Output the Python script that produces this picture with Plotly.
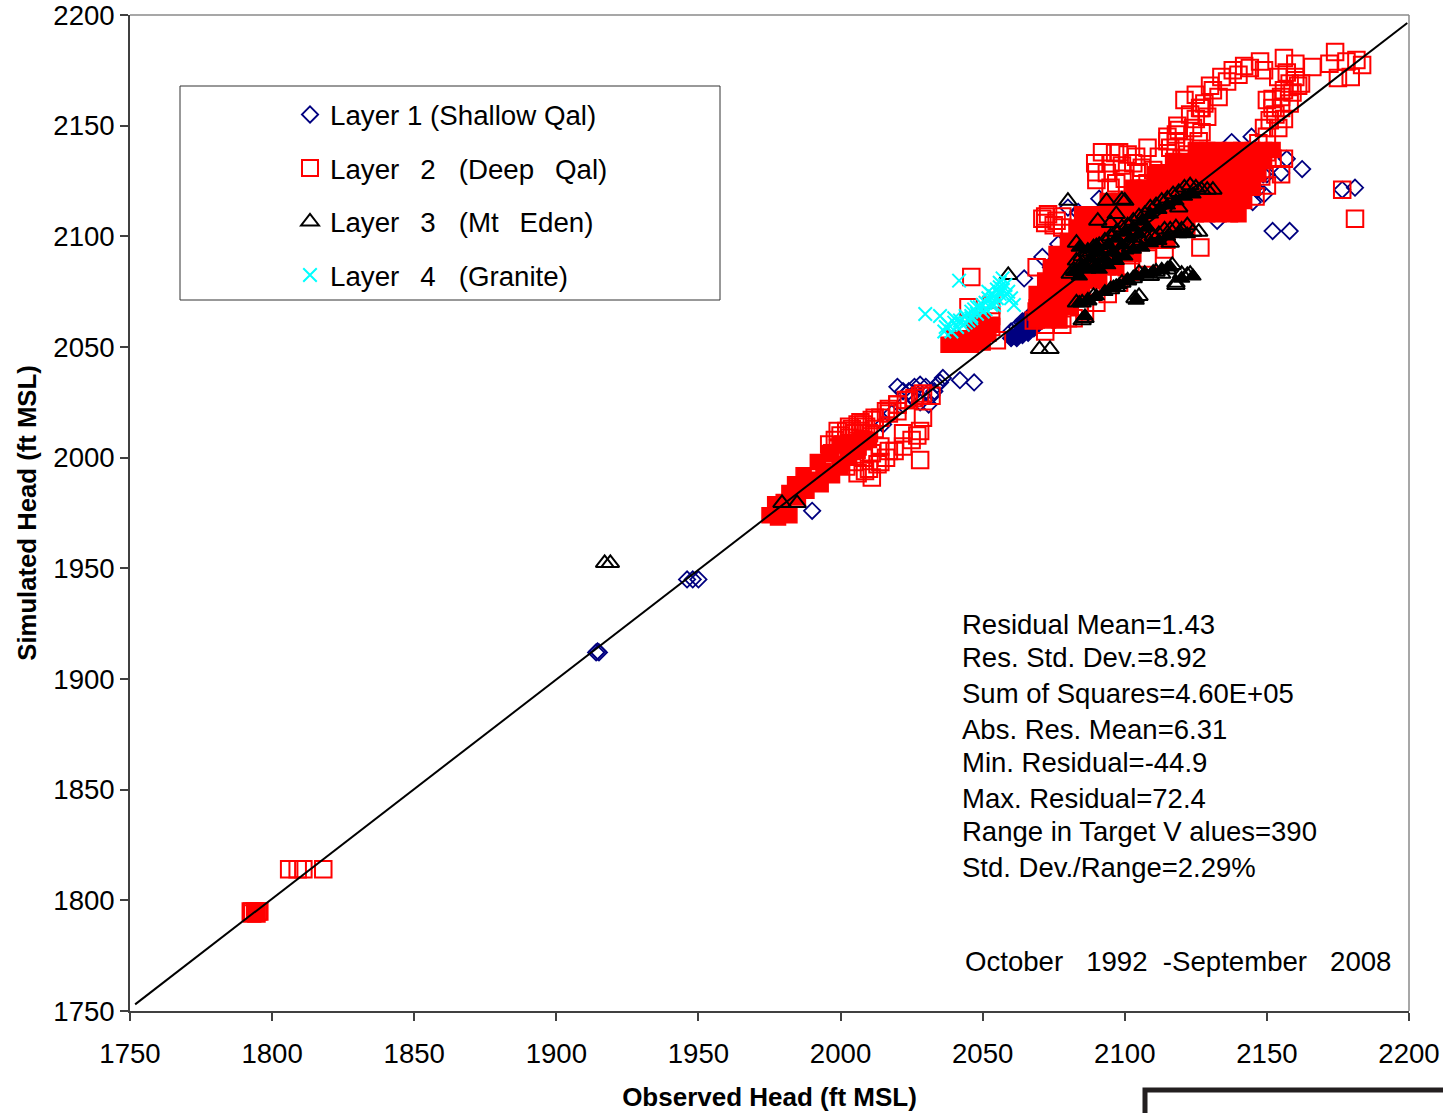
import plotly.graph_objects as go

FONT = "Liberation Sans, Arial, sans-serif"
W, H = 1443, 1113
L, R, T, B = 130, 34, 15, 102

# Layer 1 (Shallow Qal)
layer1_obs = [1914, 1915, 1914.5, 1946, 1948, 1950, 1990,
              2020, 2022, 2024, 2026, 2028, 2030, 2032, 2034, 2036, 2042, 2047, 2033, 2035, 2025, 2022, 2028, 2018, 2015, 2031,
              2060, 2061, 2062, 2063, 2064, 2065, 2066, 2060, 2062, 2064, 2066, 2067,
              2162.4, 2181, 2176.5, 2158, 2152, 2157, 2148.7, 2132.5, 2137, 2146.6, 2145, 2071, 2076.6, 2064.6, 2074, 2083.6, 2080, 2103, 2091, 2137.6, 2144.6, 2149, 2155, 2150]
layer1_sim = [1912, 1912, 1912.5, 1945, 1945, 1945, 1976,
              2032, 2030, 2030, 2032, 2033, 2032, 2028, 2033, 2036, 2035, 2034, 2030, 2034, 2028, 2024, 2025, 2020, 2015, 2024,
              2054, 2056, 2054, 2058, 2056, 2060, 2058, 2057, 2059, 2061, 2062, 2060,
              2130.4, 2122, 2121, 2102.4, 2102.4, 2135, 2128, 2107, 2111, 2121, 2115.5, 2090.7, 2096.5, 2081, 2086, 2111, 2113, 2119.6, 2117, 2142.6, 2145, 2119, 2128.6, 2128]

# Layer 1, the part of the cloud that overlaps to a solid mass
layer1_core_obs = [2060, 2062, 2064, 2066, 2062, 2064, 2066, 2068, 2065, 2067, 2064, 2067]
layer1_core_sim = [2054, 2056, 2057, 2058, 2054, 2055, 2056, 2058, 2060, 2062, 2062, 2065]

# Layer 2 (Deep Qal)
layer2_obs = [1792.5, 1793, 1794, 1795, 1795.5, 1793, 1794.5, 1806, 1809, 1811, 1818,
              1996, 1998, 2000, 2002, 2004, 2006, 1997, 1999, 2001, 2003, 2005, 2007, 2009, 2000, 2002, 2004, 2006, 2008, 2010, 2012,
              2002, 2005, 2008, 2011, 2014, 2008, 2011, 2014, 2017, 2020, 2010, 2013, 2016, 2019, 2022, 2025, 2028, 2017, 2020, 2023, 2026, 2029,
              2008.6, 2011, 2006, 2014, 2017, 2022, 2027, 2029, 2028,
              1999, 2003, 2007, 2012, 2016, 2020, 2024, 2028, 2032,
              2046, 2045, 2053, 2053, 2053, 2055,
              2121, 2126.5, 2131, 2134, 2138, 2142, 2147.6, 2149, 2123, 2125, 2128, 2130, 2133, 2136, 2140, 2144, 2118, 2118.5, 2124, 2125, 2127, 2129, 2127, 2126, 2121, 2115, 2122, 2119,
              2156, 2160, 2166, 2162, 2158, 2150, 2156, 2155, 2151, 2149, 2152, 2154, 2157, 2159, 2160, 2153, 2155, 2158, 2161, 2150, 2152, 2147, 2154, 2156, 2150, 2152,
              2174, 2175, 2172, 2179.5, 2178, 2181.5, 2183.5, 2176.5, 2181,
              2089.6, 2090, 2096.6, 2093.7, 2097, 2099, 2104, 2108, 2115, 2092, 2095, 2090, 2098, 2100, 2095, 2105, 2103, 2108, 2112, 2110, 2116, 2112, 2118, 2120, 2106, 2101,
              2072, 2078, 2075, 2069, 2071, 2073, 2076, 2078, 2072,
              2126.6, 2100.7, 2072, 2068, 2070, 2075, 2080, 2069, 2072, 2155, 2156, 2150, 2148, 2146,
              2078, 2082, 2086, 2090, 2094, 2098, 2102, 2108, 2114, 2084]
layer2_sim = [1795, 1795, 1795, 1795, 1795, 1794, 1794, 1814, 1814, 1814, 1814,
              2006, 2008, 2010, 2012, 2013, 2015, 2002, 2004, 2006, 2009, 2011, 2012, 2014, 1999, 2001, 2003, 2005, 2008, 2011, 2013,
              1996, 1998, 2000, 2002, 2005, 2015, 2017, 2018, 2020, 2021, 1995, 1997, 2000, 2003, 2005, 2008, 2012, 2022, 2024, 2026, 2027, 2029,
              1994, 1991, 1993, 1998, 2003, 2011, 2010, 2018, 1999,
              2012, 2014, 2016, 2018, 2021, 2024, 2026, 2028, 2028,
              2081.6, 2068, 2059, 2064, 2069, 2053,
              2161.6, 2158, 2166, 2172, 2175, 2177, 2179, 2175, 2155, 2164, 2160, 2168, 2163, 2170, 2173, 2176, 2146, 2150, 2149, 2153, 2147, 2154, 2158, 2143, 2140, 2143, 2137, 2148,
              2180.6, 2178, 2176.5, 2169, 2169, 2161.6, 2166, 2158, 2152.5, 2149, 2162, 2172, 2174, 2165, 2172, 2155, 2163, 2160, 2168, 2145, 2158, 2142, 2149, 2153, 2138, 2135,
              2183.3, 2171.5, 2178, 2172, 2179, 2179.7, 2177.4, 2121, 2108,
              2133, 2125.5, 2137.6, 2128.6, 2124, 2132, 2136, 2140, 2145, 2138, 2133, 2129, 2138, 2126, 2122, 2129, 2133, 2124, 2136, 2130, 2140, 2126, 2143, 2135, 2131, 2137,
              2109, 2109, 2105, 2086, 2108, 2110, 2107, 2104, 2106,
              2095, 2086, 2060, 2062, 2072, 2065, 2063, 2066, 2057, 2128, 2135, 2123, 2127, 2118,
              2060, 2063, 2066, 2070, 2074, 2079, 2084, 2090, 2094, 2068]

# Layer 2, the part of the cloud that overlaps to a solid mass
layer2_core_obs = [1794,
                   1975, 1978, 1982, 1980, 1985, 1977, 1984, 1988, 1982, 1990, 1993, 1987, 1994, 1997, 1992, 2000, 2003, 1996, 2006, 2000,
                   2003, 2007, 2010,
                   2038, 2042, 2046, 2050, 2040, 2044, 2048, 2052, 2053, 2050, 2047,
                   2069, 2073, 2077, 2069, 2073, 2077, 2081, 2069, 2073, 2077, 2081, 2085,
                   2072, 2076, 2080, 2084, 2088, 2091, 2074, 2078, 2082, 2086, 2090, 2094, 2097,
                   2076, 2080, 2084, 2088, 2092, 2096, 2100, 2103,
                   2080, 2084, 2088, 2092, 2096, 2100, 2104, 2108, 2112, 2115,
                   2083, 2087, 2091, 2095, 2099, 2103, 2107, 2111, 2115, 2119, 2122,
                   2085, 2089, 2093, 2097, 2101, 2105, 2109, 2113, 2117, 2121, 2125, 2129, 2133, 2137, 2140,
                   2094, 2098, 2102, 2106, 2110, 2114, 2118, 2122, 2126, 2130, 2134, 2138, 2142,
                   2103, 2107, 2111, 2115, 2119, 2123, 2127, 2131, 2135, 2139, 2143, 2145,
                   2111, 2115, 2119, 2123, 2127, 2131, 2135, 2139, 2143, 2147,
                   2117, 2121, 2125, 2129, 2133, 2137, 2141, 2145, 2149,
                   2125, 2129, 2133, 2137, 2141, 2145, 2149, 2152]
layer2_core_sim = [1795,
                   1974, 1973, 1974, 1980, 1982, 1979, 1988, 1985, 1984, 1990, 1988, 1992, 1994, 1992, 1998, 1996, 2000, 2002, 2003, 2006,
                   2006, 2008, 2008,
                   2051, 2051, 2051, 2052, 2054, 2054, 2055, 2056, 2060, 2062, 2060,
                   2062, 2062, 2062, 2068, 2068, 2068, 2068, 2074, 2074, 2074, 2074, 2074,
                   2080, 2080, 2080, 2080, 2080, 2080, 2086, 2086, 2086, 2086, 2086, 2086, 2086,
                   2092, 2092, 2092, 2092, 2092, 2092, 2092, 2092,
                   2098, 2098, 2098, 2098, 2098, 2098, 2098, 2098, 2098, 2098,
                   2104, 2104, 2104, 2104, 2104, 2104, 2104, 2104, 2104, 2104, 2104,
                   2110, 2110, 2110, 2110, 2110, 2110, 2110, 2110, 2110, 2110, 2110, 2110, 2110, 2110, 2110,
                   2116, 2116, 2116, 2116, 2116, 2116, 2116, 2116, 2116, 2116, 2116, 2116, 2116,
                   2122, 2122, 2122, 2122, 2122, 2122, 2122, 2122, 2122, 2122, 2122, 2122,
                   2128, 2128, 2128, 2128, 2128, 2128, 2128, 2128, 2128, 2128,
                   2134, 2134, 2134, 2134, 2134, 2134, 2134, 2134, 2134,
                   2139, 2139, 2139, 2139, 2139, 2139, 2139, 2139]

# Layer 3 (Mt Eden)
layer3_obs = [1917, 1919, 1979.4, 1984.7, 2070, 2073.7, 2059,
              2083, 2085, 2087, 2089, 2091, 2093, 2095, 2097, 2099, 2101, 2103, 2105, 2107, 2109, 2111, 2113, 2115, 2117, 2119, 2121, 2123, 2125, 2127, 2129, 2131,
              2090, 2092, 2094, 2096, 2098, 2100, 2102, 2104, 2106, 2108, 2110, 2112, 2114, 2116, 2118, 2120, 2122, 2124, 2126,
              2083, 2085, 2087, 2089, 2095, 2097, 2099, 2101, 2103, 2105, 2107, 2109, 2111, 2113, 2115, 2116.7, 2118, 2120, 2122,
              2085, 2086, 2103.6, 2105, 2118, 2123,
              2080, 2093.6, 2099, 2100, 2090.5, 2083, 2080.8, 2082, 2085, 2087, 2116, 2119, 2095, 2097]
layer3_sim = [1952.4, 1952.4, 1979.5, 1979.5, 2049, 2049, 2082.5,
              2089, 2091, 2093, 2095, 2096, 2098, 2100, 2102, 2104, 2105, 2107, 2109, 2110, 2113, 2114, 2116, 2117, 2119, 2120, 2122, 2123, 2122, 2121, 2121, 2121,
              2088, 2089, 2090, 2091, 2093, 2094, 2095, 2097, 2098, 2099, 2100, 2101, 2103, 2103, 2104, 2103, 2105, 2102, 2102,
              2070, 2070, 2071, 2073, 2076, 2077, 2079, 2080, 2081, 2083.5, 2083, 2082, 2084, 2083, 2085, 2087, 2079, 2083, 2082.5,
              2062, 2063, 2072, 2073, 2078, 2083,
              2116, 2116, 2116.5, 2116, 2107, 2097, 2083, 2085, 2088, 2091, 2097, 2113, 2106, 2110]

# Layer 3, the strips that overlap to a solid mass
layer3_core_obs = [2085, 2088, 2091, 2094, 2097, 2100, 2103, 2106, 2109, 2112, 2115, 2118, 2121, 2124,
                   2087, 2090, 2093, 2096, 2099, 2102, 2105, 2108,
                   2091, 2094, 2097, 2100, 2103, 2106, 2109, 2112, 2115, 2119, 2122,
                   2082, 2084, 2086, 2084, 2087, 2090,
                   2098, 2101, 2104, 2107, 2110, 2113,
                   2084, 2087, 2090, 2093, 2096, 2086, 2116, 2120, 2124, 2104]
layer3_core_sim = [2087, 2090, 2093, 2096, 2099, 2102, 2104, 2107, 2110, 2112, 2114, 2116, 2118, 2119,
                   2085, 2087, 2090, 2093, 2096, 2099, 2101, 2104,
                   2085, 2087, 2089, 2091, 2094, 2095, 2097, 2098, 2100, 2101, 2101,
                   2084, 2082, 2086, 2095, 2094, 2096,
                   2078, 2080, 2082, 2083, 2084, 2085,
                   2070, 2071, 2073, 2075, 2077, 2064, 2086, 2081, 2082, 2071]

# Layer 4 (Granite)
layer4_obs = [2029.8, 2035, 2041.7, 2037, 2036.5, 2038, 2039, 2040, 2041, 2040, 2042, 2043, 2044, 2045, 2046, 2046, 2047, 2048, 2049, 2050, 2051, 2051, 2052, 2053, 2053, 2054, 2055, 2055, 2056, 2056, 2057, 2058, 2059, 2060, 2061, 2057, 2054,
              2044, 2046, 2048, 2050, 2052, 2054, 2056, 2058]
layer4_sim = [2064.9, 2064, 2080, 2059, 2057, 2060, 2057, 2061, 2059, 2063, 2062, 2060, 2064, 2062, 2066, 2063, 2067, 2065, 2068, 2066, 2070, 2067, 2072, 2069, 2074, 2071, 2076, 2072, 2079, 2074, 2076, 2078, 2075, 2072, 2069, 2081, 2069,
              2061, 2064, 2068, 2069, 2075, 2073, 2077, 2073]

# Trend line
line_obs = [1751.8, 2199.4]
line_sim = [1753, 2196.4]

x_ticks = [1750, 1800, 1850, 1900, 1950, 2000, 2050, 2100, 2150, 2200]
y_ticks = [1750, 1800, 1850, 1900, 1950, 2000, 2050, 2100, 2150, 2200]

stats_lines = ["Residual Mean=1.43", "Res. Std. Dev.=8.92", "Sum of Squares=4.60E+05",
               "Abs. Res. Mean=6.31", "Min. Residual=-44.9", "Max. Residual=72.4",
               "Range in Target V alues=390", "Std. Dev./Range=2.29%"]
stats_y = [624, 657, 693, 729, 762, 798, 831, 867]

NB = "\u00a0"
TH = "\u2009"
names = ["Layer 1 (Shallow Qal)",
         f"Layer{NB}{NB}{TH}2{NB}{NB}{NB}(Deep{NB}{NB}{TH}Qal)",
         f"Layer{NB}{NB}{TH}3{NB}{NB}{NB}(Mt{NB}{NB}{TH}Eden)",
         f"Layer{NB}{NB}{TH}4{NB}{NB}{NB}(Granite)"]
NAVY, RED, BLACK, CYAN = "#000080", "#ff0000", "#000000", "#00ffff"

fig = go.Figure()


def open_trace(x, y, name, symbol, size, color, lw, group):
    fig.add_trace(go.Scatter(x=x, y=y, mode="markers", name=name, legendgroup=group,
                             marker=dict(symbol=symbol, size=size, color=color,
                                         line=dict(color=color, width=lw))))


def core_trace(x, y, name, symbol, size, color, group):
    fig.add_trace(go.Scatter(x=x, y=y, mode="markers", name=name, legendgroup=group, showlegend=False,
                             marker=dict(symbol=symbol, size=size, color=color,
                                         line=dict(color=color, width=1.5))))


open_trace(layer1_obs, layer1_sim, names[0], "diamond-open", 12.5, NAVY, 1.8, "l1")
core_trace(layer1_core_obs, layer1_core_sim, names[0], "diamond", 11.5, NAVY, "l1")
core_trace(layer2_core_obs, layer2_core_sim, names[1], "square", 15, RED, "l2")
open_trace(layer2_obs, layer2_sim, names[1], "square-open", 16.5, RED, 2, "l2")
core_trace(layer3_core_obs, layer3_core_sim, names[2], "triangle-up", 14, BLACK, "l3")
open_trace(layer3_obs, layer3_sim, names[2], "triangle-up-open", 15.5, BLACK, 2, "l3")
open_trace(layer4_obs, layer4_sim, names[3], "x-thin-open", 13.5, CYAN, 2, "l4")
fig.add_trace(go.Scatter(x=line_obs, y=line_sim, mode="lines", showlegend=False, name="Trend",
                         line=dict(color="black", width=2)))

pw, ph = W - L - R, H - T - B


def xp(px):
    return (px - L) / pw


def yp(py):
    return 1 - (py - T) / ph


def text_note(text, px, py, size):
    return dict(text=text, x=xp(px), y=yp(py), xref="paper", yref="paper", xanchor="left", yanchor="middle",
                showarrow=False, font=dict(family=FONT, size=size, color="black"))


annotations = [text_note(t, 960, py, 27.5) for t, py in zip(stats_lines, stats_y)]
annotations.append(text_note(f"October{NB}{NB}{NB}1992{NB}{NB}-September{NB}{NB}{NB}2008", 963, 961, 27.6))

GRAY = "#8a8a8a"
shapes = [
    dict(type="rect", xref="paper", yref="paper", x0=xp(180), x1=xp(720), y0=yp(86), y1=yp(300),
         line=dict(color="#333333", width=1), fillcolor="rgba(0,0,0,0)", layer="below"),
    dict(type="line", xref="paper", yref="paper", x0=0, x1=1, y0=1, y1=1, line=dict(color=GRAY, width=1.5)),
    dict(type="line", xref="paper", yref="paper", x0=1, x1=1, y0=0, y1=1, line=dict(color=GRAY, width=1.5)),
    dict(type="rect", xref="paper", yref="paper", x0=xp(1145), x1=xp(1460), y0=yp(1090), y1=yp(1130),
         line=dict(color="#231f20", width=5), fillcolor="rgba(0,0,0,0)"),
]

axis_common = dict(range=[1750, 2200], ticks="outside", ticklen=8, tickcolor="#404040",
                   tickwidth=1.5, showgrid=False, zeroline=False, showline=True, linecolor="#404040", linewidth=1.5,
                   ticklabeloverflow="allow", tickfont=dict(family=FONT, size=27.6, color="black"))

fig.update_layout(
    width=W, height=H, margin=dict(l=L, r=R, t=T, b=B, autoexpand=False),
    paper_bgcolor="white", plot_bgcolor="white",
    xaxis=dict(**axis_common, tickvals=x_ticks, ticklabelstandoff=9,
               title=dict(text="<b>Observed Head (ft MSL)</b>", standoff=20,
                          font=dict(family=FONT, size=26, color="black"))),
    yaxis=dict(**axis_common, tickvals=y_ticks, ticklabelstandoff=0,
               title=dict(text="<b>Simulated Head (ft MSL)</b>", standoff=9,
                          font=dict(family=FONT, size=25.7, color="black"))),
    legend=dict(x=xp(290), y=yp(90), xanchor="left", yanchor="top", bgcolor="rgba(0,0,0,0)", borderwidth=0,
                font=dict(family=FONT, size=27.7, color="black"), tracegroupgap=14.5, itemclick=False),
    annotations=annotations, shapes=shapes, hovermode="closest",
)

fig.write_html("out.html", config={"displayModeBar": False},
               post_script="document.body.style.margin='0';document.documentElement.style.overflow='hidden';")
